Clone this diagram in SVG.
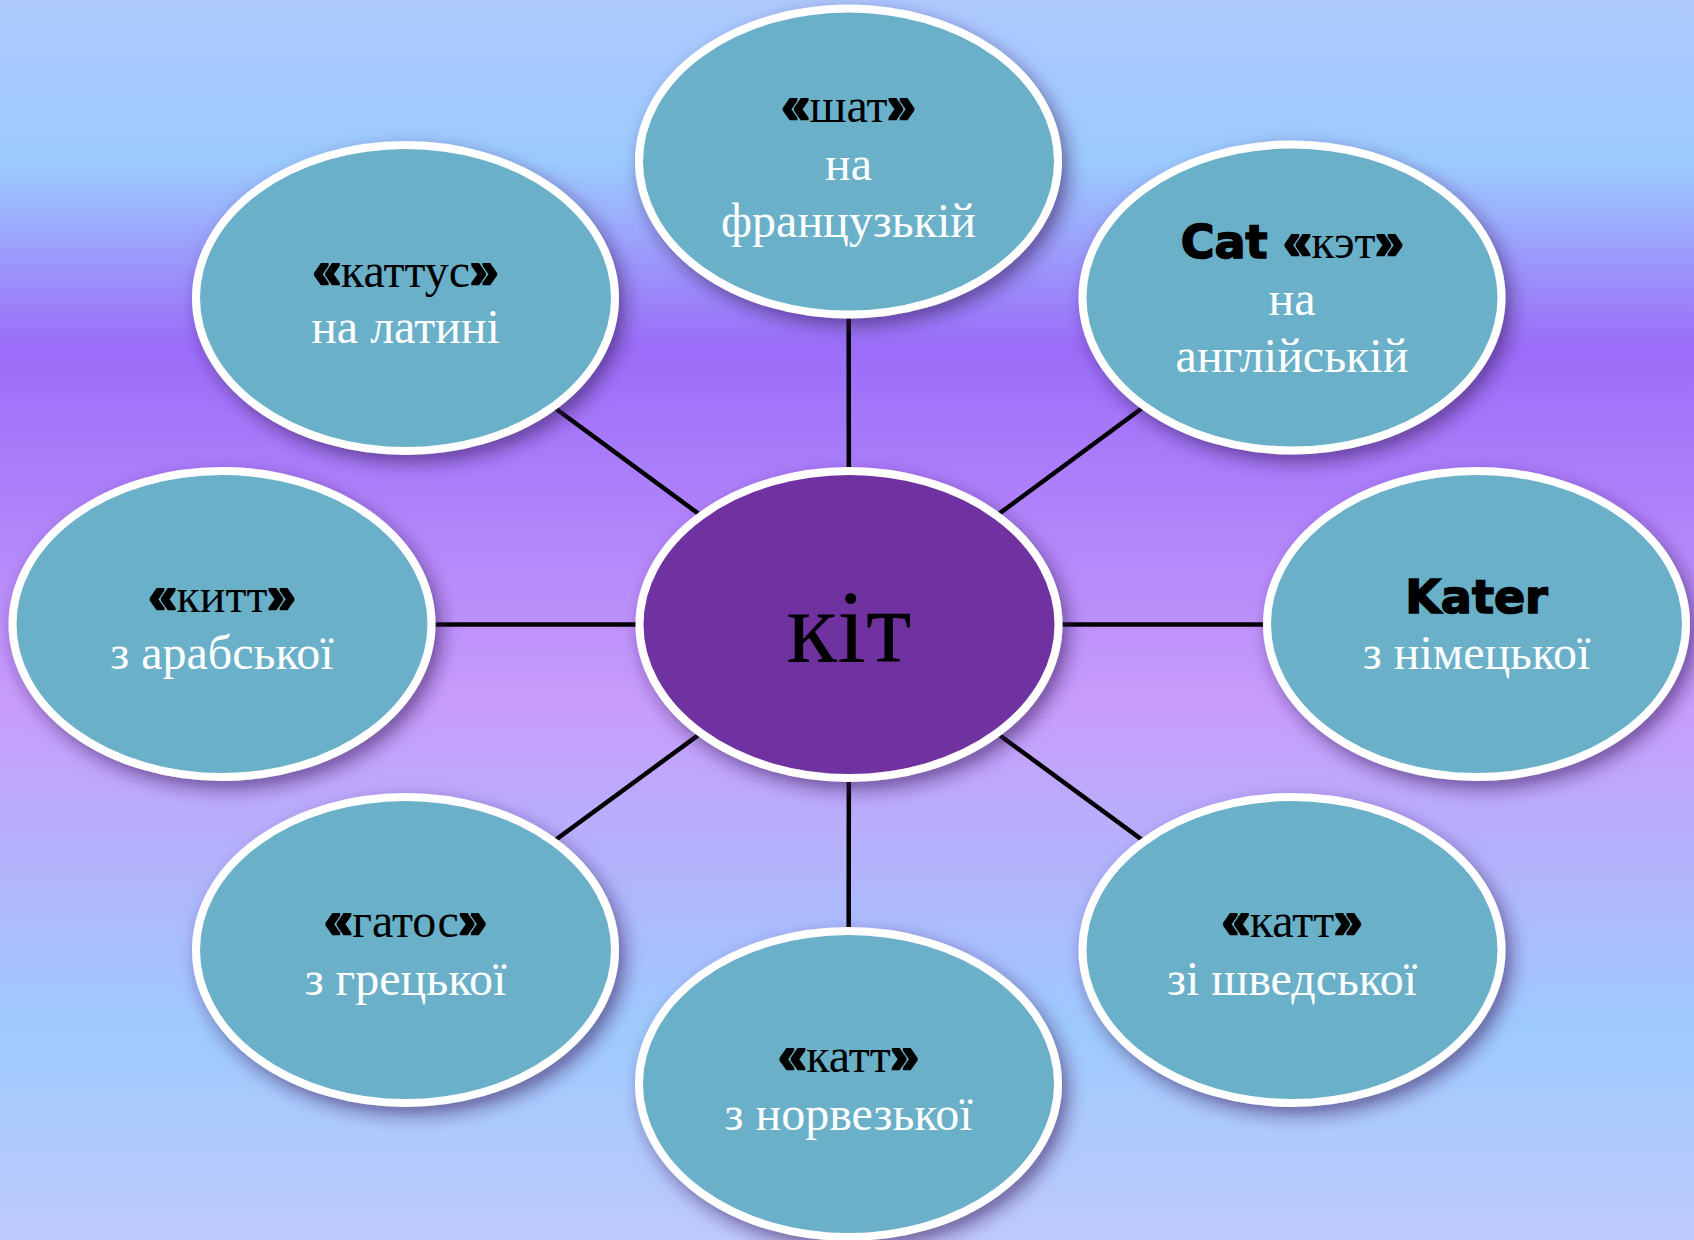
<svg xmlns="http://www.w3.org/2000/svg" width="1694" height="1240" viewBox="0 0 1694 1240">
  <defs>
    <linearGradient id="bg" x1="0" y1="0" x2="0" y2="1">
      <stop offset="0" stop-color="#aec9fe"/>
      <stop offset="0.13" stop-color="#9ccbfe"/>
      <stop offset="0.28" stop-color="#9b6df9"/>
      <stop offset="0.57" stop-color="#c89dfb"/>
      <stop offset="0.83" stop-color="#9ecbfe"/>
      <stop offset="1" stop-color="#bfc9fb"/>
    </linearGradient>
    <filter id="shadow" x="-20%" y="-20%" width="140%" height="145%">
      <feDropShadow dx="6" dy="8" stdDeviation="9" flood-color="#3a2060" flood-opacity="0.6"/>
    </filter>
    <style>
      .leaf { fill: #6bb0c9; stroke: #ffffff; stroke-width: 8; filter: url(#shadow); }
      .hub { fill: #7030a0; stroke: #ffffff; stroke-width: 8; filter: url(#shadow); }
      .conn { stroke: #000000; stroke-width: 4.5; fill: none; }
      .t { font-family: "Liberation Serif", "Times New Roman", serif; font-size: 48px; text-anchor: middle; }
      .w { fill: #ffffff; }
      .k { fill: #000000; }
      .q { font-family: "DejaVu Sans", "Liberation Sans", sans-serif; font-weight: bold; font-size: 46px; fill: #000000; stroke: #000000; stroke-width: 1.6; }
      .g { font-family: "Liberation Sans", Arial, sans-serif; font-weight: bold; font-size: 50px; fill: #000000; stroke: #000000; stroke-width: 2.6; }
      .hubt { font-family: "Liberation Serif", "Times New Roman", serif; font-size: 104px; text-anchor: middle; fill: #000000; }
    </style>
  </defs>

  <rect x="0" y="0" width="1694" height="1240" fill="url(#bg)"/>

  <g id="connectors">
    <line class="conn" x1="849" y1="624.5" x2="848.5" y2="161.5"/>
    <line class="conn" x1="849" y1="624.5" x2="1292" y2="297.5"/>
    <line class="conn" x1="849" y1="624.5" x2="1476.5" y2="624.5"/>
    <line class="conn" x1="849" y1="624.5" x2="1292" y2="950"/>
    <line class="conn" x1="849" y1="624.5" x2="848.5" y2="1084"/>
    <line class="conn" x1="849" y1="624.5" x2="405.5" y2="950"/>
    <line class="conn" x1="849" y1="624.5" x2="222" y2="624.5"/>
    <line class="conn" x1="849" y1="624.5" x2="405.5" y2="298"/>
  </g>

  <g id="node-french">
    <ellipse class="leaf" cx="848.5" cy="161.5" rx="209.5" ry="153"/>
    <text class="t k" x="848.5" y="122"><tspan class="g">«</tspan>шат<tspan class="g">»</tspan></text>
    <text class="t w" x="848.5" y="180">на</text>
    <text class="t w" x="848.5" y="237">французькій</text>
  </g>

  <g id="node-english">
    <ellipse class="leaf" cx="1292" cy="297.5" rx="209.5" ry="153"/>
    <text class="t k" x="1292" y="258"><tspan class="q">Cat </tspan><tspan class="g">«</tspan>кэт<tspan class="g">»</tspan></text>
    <text class="t w" x="1292" y="315">на</text>
    <text class="t w" x="1292" y="372">англійській</text>
  </g>

  <g id="node-german">
    <ellipse class="leaf" cx="1476.5" cy="624" rx="209.5" ry="153"/>
    <text class="t k" x="1476.5" y="613"><tspan class="q">Kater</tspan></text>
    <text class="t w" x="1476.5" y="669">з німецької</text>
  </g>

  <g id="node-swedish">
    <ellipse class="leaf" cx="1292" cy="950" rx="209.5" ry="153"/>
    <text class="t k" x="1292" y="937"><tspan class="g">«</tspan>катт<tspan class="g">»</tspan></text>
    <text class="t w" x="1292" y="995">зі шведської</text>
  </g>

  <g id="node-norwegian">
    <ellipse class="leaf" cx="848.5" cy="1084" rx="209.5" ry="153"/>
    <text class="t k" x="848.5" y="1072"><tspan class="g">«</tspan>катт<tspan class="g">»</tspan></text>
    <text class="t w" x="848.5" y="1130">з норвезької</text>
  </g>

  <g id="node-greek">
    <ellipse class="leaf" cx="405.5" cy="950" rx="209.5" ry="153"/>
    <text class="t k" x="405.5" y="937"><tspan class="g">«</tspan>гатос<tspan class="g">»</tspan></text>
    <text class="t w" x="405.5" y="995">з грецької</text>
  </g>

  <g id="node-arabic">
    <ellipse class="leaf" cx="222" cy="624" rx="209.5" ry="153"/>
    <text class="t k" x="222" y="612"><tspan class="g">«</tspan>китт<tspan class="g">»</tspan></text>
    <text class="t w" x="222" y="669">з арабської</text>
  </g>

  <g id="node-latin">
    <ellipse class="leaf" cx="405.5" cy="298" rx="209.5" ry="153"/>
    <text class="t k" x="405.5" y="287"><tspan class="g">«</tspan>каттус<tspan class="g">»</tspan></text>
    <text class="t w" x="405.5" y="343">на латині</text>
  </g>

  <g id="node-center">
    <ellipse class="hub" cx="849" cy="624.5" rx="209.5" ry="153.5"/>
    <text class="hubt" x="849" y="662">кіт</text>
  </g>
</svg>
